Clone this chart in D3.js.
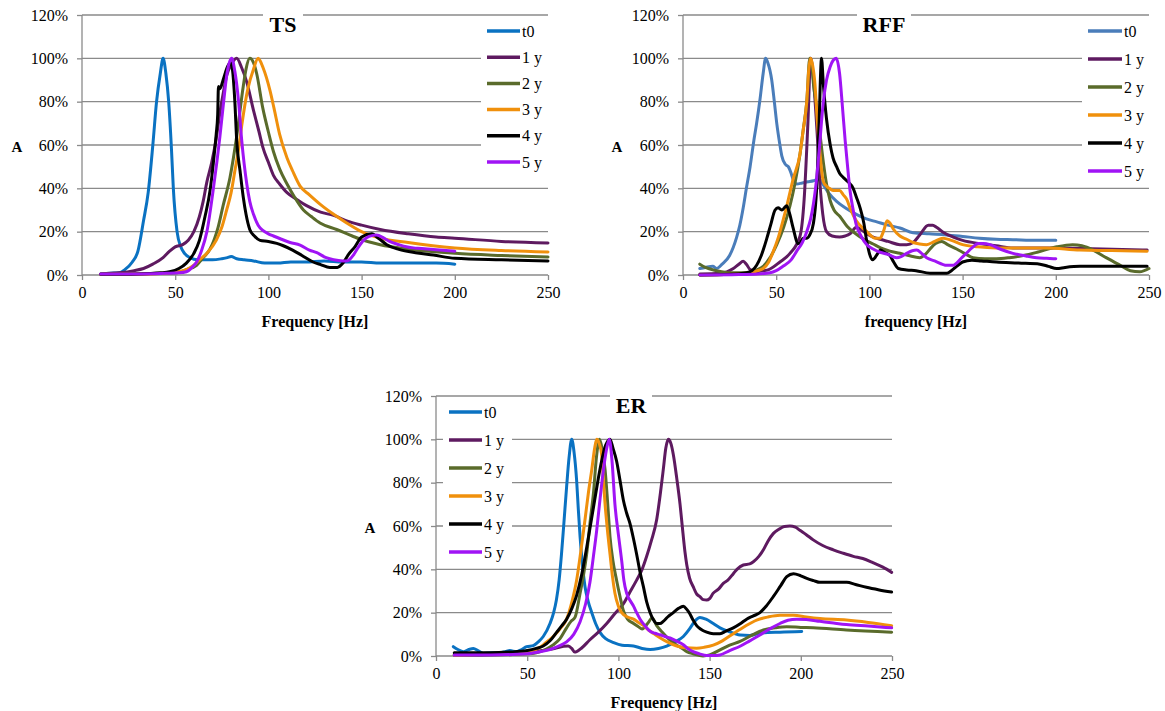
<!DOCTYPE html>
<html>
<head>
<meta charset="utf-8">
<script src="https://cdn.jsdelivr.net/npm/d3@7"></script>
<style>
  body { margin: 0; background: #fff; }
  svg { display: block; }
  svg text { font-family: "Liberation Serif", "Times New Roman", Times, serif !important; fill: #000; }
</style>
</head>
<body>
<svg id="chart" width="1165" height="711"></svg>
<script>
// ---- shared labels and ticks ----
const seriesNames = ["t0", "1 y", "2 y", "3 y", "4 y", "5 y"];
const xTickValues = [0, 50, 100, 150, 200, 250];
const yTickValues = [0, 20, 40, 60, 80, 100, 120];

// ---- TS: [frequency Hz, normalised amplitude %] ----
const tsT0 = [[10,0.5],[15,0.8],[20,1],[23,2.5],[27,6],[30,11],[33,25],[35.5,38],[38,60],[40,80],[42,93],[43.5,100],[45,93],[46.5,80],[48,58],[49,40],[51,20],[53,13],[55,10],[58,8],[62,7],[66,7],[70,7],[75,7.5],[78,8],[80,8.5],[83,7.5],[87,7],[92,6.5],[98,5.5],[105,5.5],[112,6],[120,6],[130,6.5],[140,6],[150,6],[160,5.5],[170,5.5],[180,5.5],[190,5.5],[200,5]];
const ts1y = [[10,0.5],[20,1],[28,2],[33,3],[38,5],[43.5,8],[47,11],[50,13],[54,14],[57,16],[60,20],[63,27],[65,34],[67,43],[69.6,52],[72,63],[74,75],[76,85],[77.6,92],[80,97],[83,100],[85.5,96],[88.4,89],[92,76],[95,66],[97,59],[100,52],[102.7,46],[106,42],[110,38],[115,35],[120.5,32],[128,29],[135,27.5],[142,25],[150,23],[160,21],[175,19],[190,17.5],[200,17],[225,15.5],[250,14.8]];
const ts2y = [[10,0.3],[30,0.5],[45,0.8],[51,1],[56,2.5],[61.5,4.5],[65,8],[68.7,12],[73,22],[75.7,32],[79.4,45],[83,64],[86.5,87],[88,95],[90,100],[92,98],[93.7,93],[97,77],[100,66],[102.7,57],[106,49],[110,42],[114,36],[118.8,30],[123,27],[127.7,24],[136.6,21],[145,18],[150,16.3],[160,14],[175,12],[200,10],[225,9],[250,8.3]];
const ts3y = [[10,0.3],[35,0.5],[47,1],[56,2.5],[60,4.5],[63,7],[67,10],[72,16],[75,22],[77.6,30],[80,38],[82,48],[84,58],[85.7,69],[89,86],[92,95],[94.5,100],[95.5,99],[97,96],[99,91],[100.9,85],[103,77],[106,65],[110,54],[113,48],[117,41],[122,37],[128,32.5],[135,28],[142,24],[150,20],[160,17],[175,15],[200,12.5],[225,11.3],[250,10.6]];
const ts4y = [[10,0.3],[30,0.5],[42,1],[47,1.5],[52,3],[56,5.5],[60,10],[63,16],[66,27],[68.7,39],[70.5,52],[72,65],[72.8,74],[73.2,87],[74,86],[75.7,90],[78,96],[79.5,98],[80.5,96],[82,80],[83,62],[84.8,48],[86.5,36],[88,28],[90,21],[92.5,18],[95.5,16],[100,15.5],[104.5,14.6],[108,13.5],[113,11.5],[118,9],[124,6],[128,4.8],[133,3.5],[137,3.5],[140,5.5],[143,9.5],[146.4,13],[150,17.5],[155.5,19],[159,17],[163.5,14],[170,11.8],[180,10.2],[188.5,9.2],[200,7.7],[225,7],[250,6.5]];
const ts5y = [[10,0.5],[30,0.5],[45,0.8],[52,1],[56,1.5],[59,3.5],[61.5,6],[64,11],[67,20],[70.5,40],[74,64],[76,80],[77.6,92],[80.3,100],[82,94],[84,80],[85.7,62],[88.4,42],[90,34],[92,28],[94.5,23],[97,20.6],[100,19],[102.7,18],[107,16.5],[111.6,15],[117,13.8],[122,11.5],[126,10.3],[131,8],[135,7],[140,6.5],[142.5,6.6],[145.6,9.2],[148,12.5],[151,16],[154,17.8],[158,18.5],[162,17],[165,15.5],[170,14],[174,13],[180,12.3],[188.5,11.8],[200,11]];

// ---- RFF ----
const rffT0 = [[9,3],[12,3.5],[16,4],[18,3],[21,5],[25,9],[28.8,17.5],[30.5,23],[32.3,31],[34,40],[36,50],[38,62],[39.5,70],[41.3,81],[43,93],[44.3,100],[45.5,98],[47.6,90],[49,80],[50.3,70],[52,60],[53,55],[55,51],[56.5,50],[58,47],[59.5,43],[61,42],[64,42.5],[67,43],[70,43.5],[71.7,44],[73.5,44],[75,42],[78,38],[82.4,34],[87,31],[93,28],[98,26],[104,24.5],[110,23],[116.4,21.7],[123.5,19.5],[132,19],[141.5,18.5],[150,17.8],[159,17],[168,16.5],[177,16.3],[190,16],[200,16]];
const rff1y = [[9,0.5],[20,0.8],[27,3],[30,5],[32.3,6.3],[34,5],[36,2.5],[39.5,1.5],[43,2],[46,2.5],[52,6],[57.4,10],[62.8,18],[65,35],[67,70],[68.5,100],[70,90],[72,65],[73.5,42],[75,28],[77,20],[80,18],[84,17.5],[87,18],[89.6,19],[93,22],[95.5,21],[98.6,19],[102,17.5],[105.7,16.5],[110,15.5],[116.4,14],[120,14],[123.5,15],[127,18.5],[131.6,23],[134,23],[136,22],[140,19.5],[145,17.5],[150,16],[159,14.5],[168,13.5],[177,12.5],[190,12.5],[200,12.5],[225,12],[249,11.5]];
const rff2y = [[9,5],[12,3.5],[18,2],[25,1],[34,1],[40,2.5],[43,4],[46.7,8],[50.3,14],[54,22],[57.4,32],[60,42],[62.8,56],[64.5,67],[66.4,80],[68,100],[69,98],[70,88],[71.7,78],[73.5,65],[75.3,52],[77,42],[78.9,34.5],[81,30],[84.2,27],[88,22.5],[93,18.8],[97,16.5],[102,14.3],[106,12.5],[111,11],[116.4,10],[121,9],[127,8],[130,9.5],[132.5,12],[135.5,14.5],[138.8,15.5],[142,14],[146.8,12],[151,10],[155.6,8],[162,7.5],[168,7.5],[175,8],[182.5,9],[190,10.5],[200.5,13],[209,14],[214,13.5],[220,11.5],[227,8],[234.5,4.5],[240,2],[245,1.5],[250,3]];
const rff3y = [[9,0],[25,0.3],[36,1],[40,2],[43,3],[46,6],[48.5,11],[51,17],[53.6,25],[56,33],[59,44],[62.8,56],[64.5,67],[66.4,80],[67.5,95],[68.5,100],[69.5,97],[70.8,88],[72,72],[73.5,56],[75.3,43],[77,41],[78.5,40],[80.5,39],[84,39],[86,37],[87.8,35],[90,30],[93,25],[96,22],[98.6,20],[101,18],[103,17],[105.7,17],[107.5,20],[109.5,25],[111,24],[113,21],[116.4,18],[120,16.5],[123.5,15],[127,14.3],[130.7,14],[135,15.5],[139.5,17],[144,16],[150,14],[158,13],[168,12.5],[180,12.5],[195,12.5],[213,11.5],[230,11.3],[249,11]];
const rff4y = [[9,0],[25,0.3],[34,1],[37,2],[39.5,4.5],[42,9],[45,17],[47,23],[49.4,30],[51,31],[53,30],[55.6,32],[57,29],[59,22],[61.8,14.5],[63,15],[64.5,17],[66.5,17],[68,18.5],[70,24],[71.7,40],[73,70],[74.3,100],[75.3,88],[77,72],[79,60],[80.5,54],[82.4,50],[84,47],[86,45],[88.5,43],[91.3,40],[93,36],[95,31],[97,24],[98.5,16],[100,10],[101.5,7],[103,8],[104.5,10],[106,11.5],[108,10.5],[111,9],[113,6],[115.5,3],[120,2.3],[125,2],[132.5,0.8],[141.5,0.8],[144,2],[146.8,4],[150,6],[155,6.8],[160,6.5],[168,6],[180,5.5],[191.5,5],[196,4],[200.5,3],[205,3.5],[213,4],[230,4],[249,4]];
const rff5y = [[9,0],[30,0.2],[40,0.5],[46.7,1],[50,2],[53.6,4],[58,7],[61,11],[64,15],[66.4,20],[68.5,26],[70,33],[71.5,43],[73,57],[75.3,80],[77,90],[78.9,96],[80.5,99],[82.2,100],[84,93],[85.5,78],[87,62],[88.3,50],[89.6,39],[91.3,30],[93,23],[95.5,18],[98.6,14],[102,12],[105.7,10.5],[110,9.5],[114.6,8],[117,8.5],[120,10],[123,11.2],[125.4,11.5],[128,10],[130.7,8],[135,6.5],[141.5,4.5],[145,4.5],[146.8,5.5],[149,7.5],[152,10],[155,12.5],[158.4,14.5],[161,14.5],[164.7,14],[170,12],[177,10],[184,8.8],[189.7,8],[195,7.7],[200,7.5]];

// ---- ER ----
const erT0 = [[9.5,4.3],[12,3],[15,2],[18,3],[20.5,3.5],[23,2.5],[26,1.2],[30,1.5],[35,1.5],[38,2],[40.5,2.5],[44,2],[47,3],[49.7,4.3],[53.3,4.8],[56,6.5],[58.8,9],[62.5,15],[64.5,20],[66,25.8],[67.5,35],[68.8,47],[70,60],[71.6,78],[73,92],[74.4,100],[75.7,94],[77.1,81],[78,68],[79,55],[80.3,42],[81.7,32],[83.5,25],[85.4,20],[87.5,15],[90,10.8],[93,8],[97.4,6.2],[102,5],[108.3,4.6],[113,3.5],[117.4,3],[122,3.5],[126.5,4.6],[131,6.5],[135.6,9],[139,12.5],[141,15],[143,17],[144.7,17.8],[148,17],[152,15],[155.7,13],[160,11.5],[166.7,9.7],[172,9.5],[177.6,10.5],[188.6,11],[200.5,11.3]];
const er1y = [[10,0.5],[25,0.5],[40,1],[50,1.5],[58,2.5],[65,3.5],[70,4.5],[72.5,4.6],[74.4,3.5],[76,1.8],[77.1,2],[80,3.8],[84.4,7.5],[89,11],[93.6,15],[98,19.5],[102.7,24],[106,29],[110,35],[113,40],[115.5,46],[118,53],[121,63],[123,75],[124.6,86],[126,96],[127.4,100],[128.8,98],[130.1,93],[132,82],[133.8,70],[135,60],[136.5,48],[137.5,42],[139,36],[141,32],[143,28.5],[144.7,27.4],[146.5,26],[148.4,25.8],[150,26.5],[152,29],[155,31],[157.5,33.5],[160,35],[163,38],[165,40],[168.5,42],[172,42.5],[174,43.5],[177,46],[179.5,49],[182,53],[185,56.6],[188,58.5],[191,59.8],[194,60],[197,59.5],[199.5,58],[203,56],[206.8,53.6],[212,51],[217.8,49],[223,47.5],[228.8,46],[234,45],[239.8,43],[245,41],[249.8,38.6]];
const er2y = [[10,0.5],[30,0.5],[50,1],[55,1.5],[60,3],[64,5],[68,8],[71.6,13],[74,16],[76.2,17.8],[79,29],[81,38],[82.6,47],[84.5,62],[86.3,75],[88,92],[89.6,100],[91,96],[92.7,86],[94,72],[95.4,55],[97,44],[99,35],[101,27],[102.7,21],[105,17],[108.3,15],[111,13.5],[113,12.5],[116,15],[118.5,17.5],[121,14],[124.6,10.5],[128,7.5],[132,5],[135,3.5],[137.5,2],[141,1],[146.4,0],[150,0.5],[155.7,2.8],[161,5],[166.7,6.7],[173,9.5],[179.5,12],[186,13],[192.3,13.5],[200,13.2],[206.8,13],[225,12],[249.8,11]];
const er3y = [[10,0.5],[30,0.8],[45,1],[52,2],[57,4],[60,6],[64.3,9],[68,12.5],[71.6,17],[74.5,25],[77.1,35],[79.5,49],[81.7,63],[83.5,75],[85.4,86],[87,96],[88.1,100],[89.5,98],[90.8,93],[91.7,82],[92.7,70],[94,58],[95.4,47],[96.7,37],[98.1,29],[100,23],[101.8,20],[105,18],[108.3,17],[111,15.5],[113.8,14],[116.5,12],[119.3,10.4],[123,8.3],[126.5,6.6],[132,4.6],[137,3.8],[142.9,3.6],[147,4],[152,5],[157,7],[163,10.3],[169,13.5],[175.8,16.6],[182,18],[188.6,18.8],[196,18.8],[203,18],[210.5,17.3],[225,16.6],[237,15.5],[249.8,14]];
const er4y = [[10,1.5],[20,1.5],[30,1.5],[40,1.8],[50,2.5],[55,3.5],[58.8,4.6],[62.5,7],[66,10.8],[69,14],[71.6,17],[74.5,22],[77.1,28],[80,38],[82.6,50],[85,62],[87.2,73],[89,82],[90.8,90],[92.5,96],[94,99],[95.4,100],[97,96],[99,90],[100.9,81],[102.7,72],[104.5,66],[106.4,61],[108.3,54],[110,47],[111.8,39],[113.7,32],[115.5,25],[117.4,20],[119,17],[121,15],[122.8,15],[124.6,16],[127,18],[130.1,20],[133,22],[135.6,23],[137.5,21.5],[139,19.7],[141,16.5],[142.9,14],[145,12.5],[148.4,11],[152,10.3],[155.7,10.3],[159,11.5],[163,13],[167,15],[170.3,17],[174,18.5],[177.6,20],[181,23],[185,27.5],[189,32.5],[192.3,36.6],[196,38],[200,37],[203.3,35.8],[207,34.8],[210.5,34],[218,34],[225.2,34],[230,33],[236,31.7],[243,30.5],[249.8,29.5]];
const er5y = [[10,0.5],[30,0.5],[50,1],[57,2],[62.5,3],[67,4.5],[71.6,6.5],[75.5,10],[79,15.8],[82,24],[84.4,34],[86.3,46],[88.1,58],[90,73],[91.8,86],[93.4,95],[95,100],[96.5,90],[98.1,70],[100,56],[101.8,44],[103,35],[104.5,29],[106.5,25.5],[108.3,23],[110,20],[111.9,17],[114.5,14],[117.4,11.4],[120,10.5],[122.8,9.8],[125.5,9],[128.3,8.3],[132,6.8],[135.6,5.2],[138,3.5],[141,2],[144.5,1],[148.4,0.2],[152,0.2],[155.7,0.5],[161,2.5],[166.7,4.5],[172,7],[177.6,9.7],[183,12.5],[188.6,15],[193,16.5],[197.7,17],[203,16.8],[210.5,16],[218,15.2],[225,14.5],[237,13.8],[249.8,13]];

// ---- styling ----
const colorsBright = ["#0A72C2", "#5E1A60", "#5A6B2B", "#F0900C", "#000000", "#A014F5"];
const colorsSteel  = ["#4A7DBA", "#5E1A60", "#5A6B2B", "#F0900C", "#000000", "#A014F5"];
const gridColor = "#8A8A8A";
const serif = "'Liberation Serif', 'Times New Roman', Times, serif";

const panels = [
  { title: "TS",  xLabel: "Frequency [Hz]", series: [tsT0, ts1y, ts2y, ts3y, ts4y, ts5y], colors: colorsBright,
    plot: { l: 82, r: 548, t: 15, b: 275 }, titleGap: [263, 303], titleX: 283,
    legend: { x0: 487, x1: 520, y0: 31, dy: 26.2, box: [481, 21, 67, 155] }, aX: 17 },
  { title: "RFF", xLabel: "frequency [Hz]", series: [rffT0, rff1y, rff2y, rff3y, rff4y, rff5y], colors: colorsSteel,
    plot: { l: 683, r: 1149, t: 15, b: 275 }, titleGap: [857, 911], titleX: 884,
    legend: { x0: 1088, x1: 1122, y0: 31, dy: 28, box: [1082, 19, 67, 162] }, aX: 617 },
  { title: "ER",  xLabel: "Frequency [Hz]", series: [erT0, er1y, er2y, er3y, er4y, er5y], colors: colorsBright,
    plot: { l: 436, r: 892, t: 396, b: 656 }, titleGap: [610, 652], titleX: 631,
    legend: { x0: 449, x1: 482, y0: 412, dy: 28, box: [443, 400, 69, 162] }, aX: 370 }
];

const svg = d3.select("#chart").attr("font-family", serif);

panels.forEach(p => {
  const g = svg.append("g");
  const x = d3.scaleLinear().domain([0, 250]).range([p.plot.l, p.plot.r]);
  const y = d3.scaleLinear().domain([0, 120]).range([p.plot.b, p.plot.t]);

  // horizontal gridlines
  g.append("g").selectAll("line").data(yTickValues.filter(v => v > 0)).join("line")
    .attr("x1", p.plot.l).attr("x2", p.plot.r)
    .attr("y1", d => y(d)).attr("y2", d => y(d))
    .attr("stroke", gridColor).attr("stroke-width", 1.3);

  // white panels behind title and legend interrupt the gridlines
  g.append("rect").attr("x", p.titleGap[0]).attr("y", p.plot.t - 8)
    .attr("width", p.titleGap[1] - p.titleGap[0]).attr("height", 26).attr("fill", "#fff");
  g.append("rect").attr("x", p.legend.box[0]).attr("y", p.legend.box[1])
    .attr("width", p.legend.box[2]).attr("height", p.legend.box[3]).attr("fill", "#fff");

  // axes
  const yAxis = d3.axisLeft(y).tickValues(yTickValues).tickSize(5).tickPadding(9)
    .tickFormat(d => d + "%");
  const ya = g.append("g").attr("transform", `translate(${p.plot.l},0)`).call(yAxis);
  const xAxis = d3.axisBottom(x).tickValues(xTickValues).tickSize(5).tickPadding(7);
  const xa = g.append("g").attr("transform", `translate(0,${p.plot.b})`).call(xAxis);

  [ya, xa].forEach(a => {
    a.attr("font-family", serif).attr("font-size", 16);
    a.select(".domain").attr("stroke", gridColor).attr("stroke-width", 1.3);
    a.selectAll(".tick line").attr("stroke", gridColor).attr("stroke-width", 1.3);
    a.selectAll(".tick text").attr("fill", "#000");
  });
  xa.select(".domain").attr("d", `M${p.plot.l},0H${p.plot.r}`);
  ya.select(".domain").attr("d", `M0,${p.plot.t}V${p.plot.b}`);

  // curves
  const line = d3.line().x(d => x(d[0])).y(d => y(d[1])).curve(d3.curveMonotoneX);
  g.append("g").selectAll("path").data(p.series).join("path")
    .attr("d", line).attr("fill", "none")
    .attr("stroke", (d, i) => p.colors[i]).attr("stroke-width", 3)
    .attr("stroke-linejoin", "round").attr("stroke-linecap", "round");

  // legend
  const lg = g.append("g");
  seriesNames.forEach((name, i) => {
    const ly = p.legend.y0 + i * p.legend.dy;
    lg.append("line").attr("x1", p.legend.x0).attr("x2", p.legend.x1)
      .attr("y1", ly).attr("y2", ly).attr("stroke", p.colors[i]).attr("stroke-width", 3.5);
    lg.append("text").attr("x", p.legend.x1 + 2).attr("y", ly).attr("dy", "0.35em")
      .attr("font-size", 16).text(name);
  });

  // title
  g.append("text").attr("x", p.titleX).attr("y", p.plot.t + 9).attr("dy", "0.35em")
    .attr("text-anchor", "middle").attr("font-weight", "bold").attr("font-size", 22).text(p.title);

  // axis titles
  g.append("text").attr("x", (p.plot.l + p.plot.r) / 2).attr("y", p.plot.b + 46)
    .attr("dy", "0.35em").attr("text-anchor", "middle").attr("font-weight", "bold")
    .attr("font-size", 16).text(p.xLabel);
  g.append("text").attr("x", p.aX).attr("y", y(60) + 2).attr("dy", "0.35em")
    .attr("text-anchor", "middle").attr("font-weight", "bold").attr("font-size", 15).text("A");
});
</script>
</body>
</html>
